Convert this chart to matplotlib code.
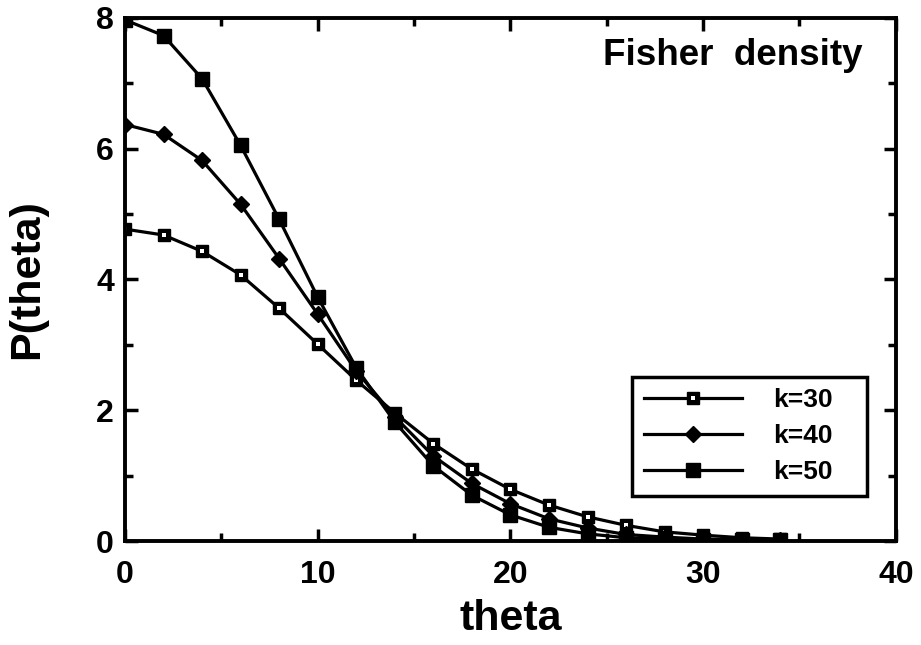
import matplotlib
matplotlib.use("Agg")
import matplotlib.pyplot as plt
from matplotlib.ticker import MultipleLocator
from matplotlib.legend_handler import HandlerTuple

theta = [0, 2, 4, 6, 8, 10, 12, 14, 16, 18, 20, 22, 24, 26, 28, 30, 32, 34]
k30 = [4.77, 4.68, 4.43, 4.07, 3.56, 3.01, 2.46, 1.96, 1.49, 1.10, 0.79, 0.55, 0.37, 0.24, 0.14, 0.09, 0.05, 0.03]
k40 = [6.37, 6.22, 5.82, 5.15, 4.32, 3.47, 2.60, 1.90, 1.30, 0.88, 0.57, 0.34, 0.20, 0.10, 0.06, 0.03, 0.02, 0.01]
k50 = [7.97, 7.73, 7.07, 6.05, 4.92, 3.73, 2.65, 1.82, 1.15, 0.70, 0.40, 0.21, 0.11, 0.05, 0.03, 0.02, 0.01, 0.01]
labels = ["k=30", "k=40", "k=50"]

plt.rcParams['font.family'] = ['Liberation Sans', 'DejaVu Sans']
plt.rcParams['font.weight'] = 'bold'

fig = plt.figure(figsize=(9.21, 6.45), dpi=100)
ax = fig.add_axes([0.1357, 0.1612, 0.837, 0.811])

lw = 2.3
# k=30: black square with a small white centre
h30a, = ax.plot(theta, k30, color='black', lw=lw, marker='s', markersize=9,
                markerfacecolor='black', markeredgecolor='black')
h30b, = ax.plot(theta, k30, linestyle='none', marker='s', markersize=3.2,
                markerfacecolor='white', markeredgecolor='white', markeredgewidth=0)
h40, = ax.plot(theta, k40, color='black', lw=lw, marker='D', markersize=8.5,
               markerfacecolor='black', markeredgecolor='black')
h50, = ax.plot(theta, k50, color='black', lw=lw, marker='s', markersize=10,
               markerfacecolor='black', markeredgecolor='black')

ax.set_xlim(0, 40)
ax.set_ylim(0, 8)
ax.xaxis.set_major_locator(MultipleLocator(10))
ax.xaxis.set_minor_locator(MultipleLocator(5))
ax.yaxis.set_major_locator(MultipleLocator(2))
ax.yaxis.set_minor_locator(MultipleLocator(1))
ax.tick_params(which='both', direction='in', top=True, right=True, width=2.5)
ax.tick_params(which='major', length=9, labelsize=23, pad=8)
ax.tick_params(axis='x', which='major', pad=14)
ax.tick_params(which='minor', length=6)
for lab in ax.get_xticklabels() + ax.get_yticklabels():
    lab.set_fontweight('bold')
for s in ax.spines.values():
    s.set_linewidth(2.8)

ax.set_xlabel("theta", fontsize=31, fontweight='bold', labelpad=6)
ax.set_ylabel("P(theta)", fontsize=31, fontweight='bold', labelpad=35)
ax.text(0.957, 0.929, "Fisher  density", transform=ax.transAxes, ha='right', va='center',
        fontsize=26.5, fontweight='bold')

leg = ax.legend([(h30a, h30b), h40, h50], labels,
                handler_map={tuple: HandlerTuple(ndivide=1, pad=0)},
                loc='lower left', bbox_to_anchor=(0.658, 0.086, 0.305, 0.228),
                mode='expand', borderaxespad=0,
                fancybox=False, edgecolor='black', framealpha=1, handlelength=3.7,
                handletextpad=1.2, borderpad=0.45, labelspacing=0.45,
                prop={'weight': 'bold', 'size': 19})
leg.get_frame().set_linewidth(2.5)

fig.savefig("out.png", dpi=100)
